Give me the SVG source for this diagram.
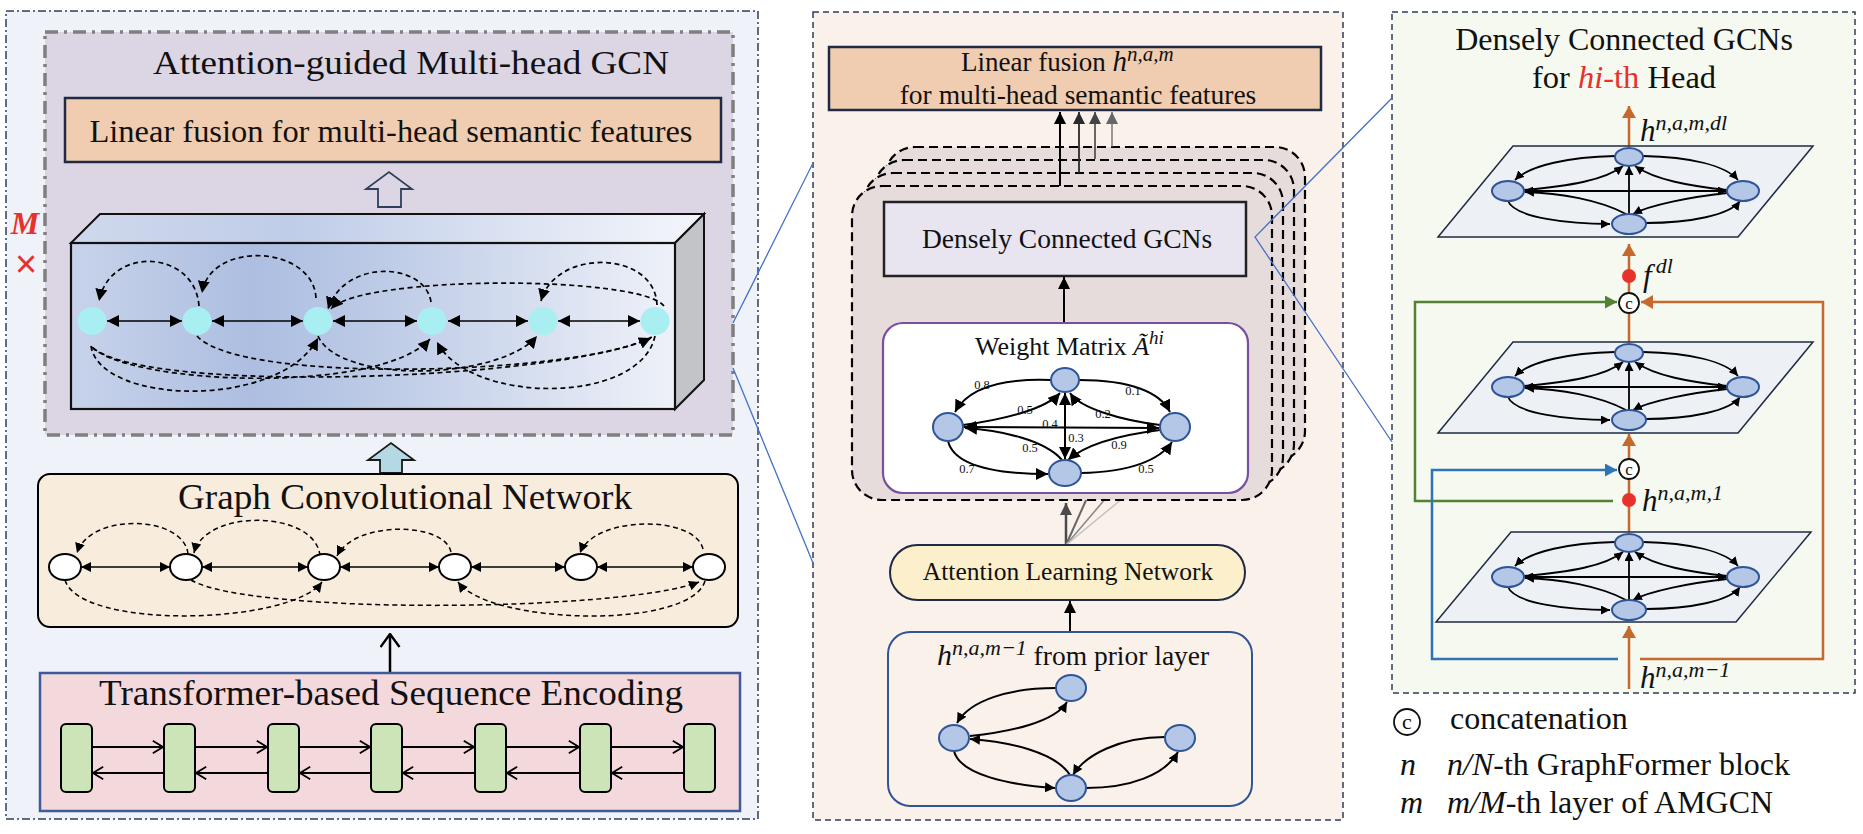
<svg xmlns="http://www.w3.org/2000/svg" width="1863" height="834" viewBox="0 0 1863 834">
<style>
text{font-family:'Liberation Serif','Times New Roman',serif;fill:#111}
.it{font-style:italic}
.ln{fill:none;stroke:#000;stroke-width:2}
.dsh{fill:none;stroke:#000;stroke-width:1.7;stroke-dasharray:5 3.5}
.cy{fill:#a9eef0}
.wn{fill:#fff;stroke:#000;stroke-width:2}
.bn{fill:#b4c7e7;stroke:#2f5597;stroke-width:2}
.gb{fill:#cde3b8;stroke:#000;stroke-width:2}
.bl{fill:none;stroke:#4472c4;stroke-width:1.3}
.or{fill:none;stroke:#c5692e;stroke-width:2.5}
.card{fill:#e6dcdc;stroke:#000;stroke-width:2.2;stroke-dasharray:9 5}
.plane{fill:#edf1f6;stroke:#1f2a44;stroke-width:1.5}
.wl{font-size:12.5px;text-anchor:middle}
</style>
<defs>
<marker id="a12" viewBox="0 0 12 12" refX="12" refY="6" markerWidth="12" markerHeight="12" markerUnits="userSpaceOnUse" orient="auto-start-reverse"><path d="M0,0L12,6L0,12z" fill="#000"/></marker>
<marker id="a10" viewBox="0 0 10 10" refX="10" refY="5" markerWidth="10" markerHeight="10" markerUnits="userSpaceOnUse" orient="auto-start-reverse"><path d="M0,0L10,5L0,10z" fill="#000"/></marker>
<marker id="a9" viewBox="0 0 10 10" refX="10" refY="5" markerWidth="9" markerHeight="9" markerUnits="userSpaceOnUse" orient="auto-start-reverse"><path d="M0,0L10,5L0,10z" fill="#000"/></marker>
<marker id="ch" viewBox="0 0 12 14" refX="11" refY="7" markerWidth="12" markerHeight="14" markerUnits="userSpaceOnUse" orient="auto"><path d="M0.8,0.8L11,7L0.8,13.2" fill="none" stroke="#000" stroke-width="1.8"/></marker>
<marker id="chb" viewBox="0 0 15 21" refX="14" refY="10.5" markerWidth="15" markerHeight="21" markerUnits="userSpaceOnUse" orient="auto"><path d="M1,1L14,10.5L1,20" fill="none" stroke="#000" stroke-width="2.4"/></marker>
<marker id="ao" viewBox="0 0 12 14" refX="12" refY="7" markerWidth="12" markerHeight="14" markerUnits="userSpaceOnUse" orient="auto"><path d="M0,0L12,7L0,14z" fill="#c5692e"/></marker>
<marker id="ag" viewBox="0 0 12 13" refX="12" refY="6.5" markerWidth="12" markerHeight="13" markerUnits="userSpaceOnUse" orient="auto"><path d="M0,0L12,6.5L0,13z" fill="#548235"/></marker>
<marker id="ab" viewBox="0 0 12 13" refX="12" refY="6.5" markerWidth="12" markerHeight="13" markerUnits="userSpaceOnUse" orient="auto"><path d="M0,0L12,6.5L0,13z" fill="#2e75b6"/></marker>
<marker id="k1" viewBox="0 0 12 12" refX="12" refY="6" markerWidth="12" markerHeight="12" markerUnits="userSpaceOnUse" orient="auto"><path d="M0,0L12,6L0,12z" fill="#000"/></marker>
<marker id="k2" viewBox="0 0 12 12" refX="12" refY="6" markerWidth="12" markerHeight="12" markerUnits="userSpaceOnUse" orient="auto"><path d="M0,0L12,6L0,12z" fill="#2a2a2a"/></marker>
<marker id="k3" viewBox="0 0 12 12" refX="12" refY="6" markerWidth="12" markerHeight="12" markerUnits="userSpaceOnUse" orient="auto"><path d="M0,0L12,6L0,12z" fill="#444"/></marker>
<marker id="k4" viewBox="0 0 12 12" refX="12" refY="6" markerWidth="12" markerHeight="12" markerUnits="userSpaceOnUse" orient="auto"><path d="M0,0L12,6L0,12z" fill="#666"/></marker>
<marker id="kf" viewBox="0 0 12 12" refX="12" refY="6" markerWidth="12" markerHeight="12" markerUnits="userSpaceOnUse" orient="auto"><path d="M0,0L12,6L0,12z" fill="#4a4a4a"/></marker>
<linearGradient id="gFront" x1="0" y1="0" x2="1" y2="0">
<stop offset="0" stop-color="#c8d3ea"/><stop offset="0.3" stop-color="#adbee1"/><stop offset="0.5" stop-color="#bccae6"/><stop offset="1" stop-color="#eef1f8"/>
</linearGradient>
<linearGradient id="gTop" x1="0" y1="0" x2="1" y2="0">
<stop offset="0" stop-color="#cfd8ec"/><stop offset="0.35" stop-color="#c0cde8"/><stop offset="1" stop-color="#f4f6fb"/>
</linearGradient>
</defs>

<!-- ============ LEFT PANEL ============ -->
<g id="left-panel">
<rect x="6" y="11" width="752" height="808" fill="#eff2f8" stroke="#2f3e5a" stroke-width="1.5" stroke-dasharray="8 3 2 3"/>
</g>
<g id="amgcn-box">
<rect x="45" y="32" width="688" height="403" fill="#dcd6e4" stroke="#7f7f7f" stroke-width="3.5" stroke-dasharray="13 6 3 6"/>
<text x="411" y="74" font-size="34" text-anchor="middle" textLength="516" lengthAdjust="spacingAndGlyphs">Attention-guided Multi-head GCN</text>
</g>
<g id="linear-fusion-left">
<rect x="65" y="98" width="656" height="64" fill="#f0cdb0" stroke="#1f2a44" stroke-width="2.5"/>
<text x="391" y="142" font-size="31" text-anchor="middle" textLength="603" lengthAdjust="spacingAndGlyphs">Linear fusion for multi-head semantic features</text>
</g>
<g id="hollow-arrow">
<polygon points="378,207 401,207 401,189 412,189 389,172 366,189 378,189" fill="#dcd6e4" stroke="#2f3e5a" stroke-width="1.8"/>
</g>
<g id="m-times">
<text x="25" y="234" font-size="32" font-weight="bold" font-style="italic" text-anchor="middle" style="fill:#e8312a">M</text>
<text x="26" y="277" font-size="38" text-anchor="middle" style="fill:#e8312a;font-family:'Liberation Sans',sans-serif">×</text>
</g>
<g id="cube">
<polygon points="71,243 100,214 704,214 675,243" fill="url(#gTop)" stroke="#111" stroke-width="2"/>
<polygon points="675,243 704,214 704,380 675,409" fill="#c3c4c7" stroke="#111" stroke-width="2"/>
<rect x="71" y="243" width="604" height="166" fill="url(#gFront)" stroke="#111" stroke-width="2.2"/>
</g>
<g id="cube-edges">
<g class="ln" style="stroke-width:1.6">
<path d="M107,321H182" marker-start="url(#a12)" marker-end="url(#a12)"/>
<path d="M212,321H303" marker-start="url(#a12)" marker-end="url(#a12)"/>
<path d="M333,321H417" marker-start="url(#a12)" marker-end="url(#a12)"/>
<path d="M448,321H528" marker-start="url(#a12)" marker-end="url(#a12)"/>
<path d="M558,321H640" marker-start="url(#a12)" marker-end="url(#a12)"/>
</g>
<g class="dsh">
<path d="M199,306C195,250 110,245 99,301" marker-end="url(#a12)"/>
<path d="M316,298C313,245 210,240 202,293" marker-end="url(#a12)"/>
<path d="M431,302C425,262 345,258 328,309" marker-end="url(#a12)"/>
<path d="M664,306C640,275 360,275 331,309" marker-end="url(#a12)"/>
<path d="M657,305C655,250 555,248 541,301" marker-end="url(#a12)"/>
<path d="M91,346C100,405 280,410 318,338" marker-end="url(#a12)"/>
<path d="M92,347C130,385 380,395 430,339" marker-end="url(#a12)"/>
<path d="M93,348C150,395 560,380 651,338" marker-end="url(#a12)"/>
<path d="M197,336C240,385 580,375 652,337"/>
<path d="M318,336C340,385 500,380 537,336" marker-end="url(#a12)"/>
<path d="M655,336C640,405 470,405 437,342" marker-end="url(#a12)"/>
</g>
</g>
<g id="cube-nodes">
<ellipse class="cy" cx="92" cy="321" rx="14.5" ry="14"/>
<ellipse class="cy" cx="197" cy="321" rx="14.5" ry="14"/>
<ellipse class="cy" cx="318" cy="321" rx="14.5" ry="14"/>
<ellipse class="cy" cx="432" cy="321" rx="14.5" ry="14"/>
<ellipse class="cy" cx="543" cy="321" rx="14.5" ry="14"/>
<ellipse class="cy" cx="655" cy="321" rx="14.5" ry="14"/>
</g>
<g id="blue-arrow">
<polygon points="380,473 402,473 402,460 414,460 391,443 368,460 380,460" fill="#b4d9e4" stroke="#1a1a1a" stroke-width="1.8"/>
</g>
<g id="gcn-box">
<rect x="38" y="474" width="700" height="153" rx="12" fill="#f8ecdd" stroke="#000" stroke-width="2"/>
<text x="405" y="509" font-size="35" text-anchor="middle" textLength="454" lengthAdjust="spacingAndGlyphs">Graph Convolutional Network</text>
</g>
<g id="gcn-edges">
<g class="ln" style="stroke-width:1.5">
<path d="M81,567H170" marker-start="url(#a10)" marker-end="url(#a10)"/>
<path d="M202,567H308" marker-start="url(#a10)" marker-end="url(#a10)"/>
<path d="M340,567H439" marker-start="url(#a10)" marker-end="url(#a10)"/>
<path d="M471,567H565" marker-start="url(#a10)" marker-end="url(#a10)"/>
<path d="M597,567H693" marker-start="url(#a10)" marker-end="url(#a10)"/>
</g>
<g class="dsh" style="stroke-width:1.5">
<path d="M188,554C184,515 90,512 77,553" marker-end="url(#a10)"/>
<path d="M320,556C316,510 205,508 194,553" marker-end="url(#a10)"/>
<path d="M451,552C445,522 355,520 337,556" marker-end="url(#a10)"/>
<path d="M703,549C695,515 595,515 580,553" marker-end="url(#a10)"/>
<path d="M65,580C80,630 290,625 322,582" marker-end="url(#a10)"/>
<path d="M191,580C250,615 620,612 699,582" marker-end="url(#a10)"/>
<path d="M705,581C690,630 490,625 458,582" marker-end="url(#a10)"/>
</g>
</g>
<g id="gcn-nodes">
<ellipse class="wn" cx="65" cy="567" rx="16" ry="13"/>
<ellipse class="wn" cx="186" cy="567" rx="16" ry="13"/>
<ellipse class="wn" cx="324" cy="567" rx="16" ry="13"/>
<ellipse class="wn" cx="455" cy="567" rx="16" ry="13"/>
<ellipse class="wn" cx="581" cy="567" rx="16" ry="13"/>
<ellipse class="wn" cx="709" cy="567" rx="16" ry="13"/>
</g>
<g id="enc-to-gcn">
<path class="ln" style="stroke-width:2.5" d="M390,672V634" marker-end="url(#chb)"/>
</g>
<g id="transformer-box">
<rect x="40" y="673" width="700" height="138" fill="#f4d9dc" stroke="#3f5a99" stroke-width="2.5"/>
<text x="391" y="705" font-size="35" text-anchor="middle" textLength="584" lengthAdjust="spacingAndGlyphs">Transformer-based Sequence Encoding</text>
</g>
<g id="transformer-blocks">
<rect class="gb" x="61" y="724" width="31" height="68" rx="5"/>
<rect class="gb" x="164" y="724" width="31" height="68" rx="5"/>
<rect class="gb" x="268" y="724" width="31" height="68" rx="5"/>
<rect class="gb" x="371" y="724" width="31" height="68" rx="5"/>
<rect class="gb" x="475" y="724" width="31" height="68" rx="5"/>
<rect class="gb" x="580" y="724" width="31" height="68" rx="5"/>
<rect class="gb" x="684" y="724" width="31" height="68" rx="5"/>
</g>
<g id="transformer-arrows" class="ln" style="stroke-width:1.8">
<path d="M92,747H163" marker-end="url(#ch)"/>
<path d="M195,747H267" marker-end="url(#ch)"/>
<path d="M299,747H370" marker-end="url(#ch)"/>
<path d="M402,747H474" marker-end="url(#ch)"/>
<path d="M506,747H579" marker-end="url(#ch)"/>
<path d="M611,747H683" marker-end="url(#ch)"/>
<path d="M164,773H93" marker-end="url(#ch)"/>
<path d="M268,773H196" marker-end="url(#ch)"/>
<path d="M371,773H300" marker-end="url(#ch)"/>
<path d="M475,773H403" marker-end="url(#ch)"/>
<path d="M580,773H507" marker-end="url(#ch)"/>
<path d="M684,773H612" marker-end="url(#ch)"/>
</g>

<!-- ============ CENTER PANEL ============ -->
<g id="center-panel">
<rect x="813" y="12" width="530" height="808" fill="#faf1eb" stroke="#2f3e5a" stroke-width="1.5" stroke-dasharray="6 4"/>
</g>
<g id="linear-fusion-center">
<rect x="829" y="47" width="492" height="63" fill="#f0cdb0" stroke="#1f2a44" stroke-width="2.5"/>
<text x="961" y="71" font-size="27">Linear fusion <tspan class="it" font-size="29">h</tspan><tspan class="it" font-size="21" dy="-10">n,a,m</tspan></text>
<text x="1078" y="104" font-size="27.5" text-anchor="middle">for multi-head semantic features</text>
</g>
<g id="fan-lines">
<path d="M1066,545V503" fill="none" stroke="#4a4a4a" stroke-width="2.5" marker-end="url(#kf)"/>
<path d="M1066,545L1087,498" fill="none" stroke="#666" stroke-width="2"/>
<path d="M1066,545L1106,498" fill="none" stroke="#8a8a8a" stroke-width="1.6"/>
<path d="M1066,545L1123,498" fill="none" stroke="#c4c4c4" stroke-width="1.6"/>
</g>
<g id="head-cards">
<rect class="card" x="885" y="147" width="420" height="314" rx="30"/>
<rect class="card" x="874" y="160" width="420" height="314" rx="30"/>
<rect class="card" x="863" y="173" width="420" height="314" rx="30"/>
<rect class="card" x="852" y="186" width="420" height="314" rx="30"/>
</g>
<g id="head-arrows">
<path d="M1060,186V112" fill="none" stroke="#000" stroke-width="2" marker-end="url(#k1)"/>
<path d="M1079,173V112" fill="none" stroke="#2a2a2a" stroke-width="1.8" marker-end="url(#k2)"/>
<path d="M1095,159V112" fill="none" stroke="#444" stroke-width="1.6" marker-end="url(#k3)"/>
<path d="M1112,147V112" fill="none" stroke="#666" stroke-width="1.3" marker-end="url(#k4)"/>
</g>
<g id="densely-box">
<rect x="884" y="202" width="362" height="74" fill="#e8e4f0" stroke="#222" stroke-width="2.5"/>
<text x="1067" y="248" font-size="27.5" text-anchor="middle">Densely Connected GCNs</text>
</g>
<g id="wm-to-dense">
<path class="ln" d="M1064,323V277" marker-end="url(#k1)"/>
</g>
<g id="weight-matrix">
<rect x="883" y="323" width="365" height="170" rx="20" fill="#fff" stroke="#7a4fa0" stroke-width="2.2"/>
<text x="975" y="355" font-size="26">Weight Matrix <tspan class="it">Ã</tspan><tspan class="it" font-size="19" dy="-11">hi</tspan></text>
<g class="ln" style="stroke-width:2">
<path d="M1051,380C1000,378 968,388 955,412" marker-end="url(#a12)"/>
<path d="M1079,380C1130,380 1160,392 1170,412" marker-end="url(#a12)"/>
<path d="M948,441C955,470 1010,474 1048,474" marker-end="url(#a12)"/>
<path d="M1081,473C1130,472 1160,460 1172,442" marker-end="url(#a12)"/>
<path d="M964,427L1159,428" marker-start="url(#a12)" marker-end="url(#a12)"/>
<path d="M1065,459V393" marker-start="url(#a12)" marker-end="url(#a12)"/>
<path d="M963,425C1000,420 1045,410 1060,393" marker-end="url(#a12)"/>
<path d="M1160,425C1120,420 1080,408 1070,393" marker-end="url(#a12)"/>
<path d="M1062,460C1045,440 1000,430 965,428" marker-end="url(#a12)"/>
<path d="M1160,430C1120,435 1085,445 1068,460" marker-end="url(#a12)"/>
</g>
<ellipse class="bn" cx="1065" cy="380" rx="14" ry="12"/>
<ellipse class="bn" cx="948" cy="427" rx="15" ry="14"/>
<ellipse class="bn" cx="1175" cy="427" rx="15" ry="14"/>
<ellipse class="bn" cx="1065" cy="473" rx="16" ry="13"/>
<text class="wl" x="982" y="389">0.8</text>
<text class="wl" x="1133" y="395">0.1</text>
<text class="wl" x="1025" y="414">0.5</text>
<text class="wl" x="1050" y="428">0.4</text>
<text class="wl" x="1103" y="418">0.2</text>
<text class="wl" x="1076" y="442">0.3</text>
<text class="wl" x="1030" y="452">0.5</text>
<text class="wl" x="1119" y="449">0.9</text>
<text class="wl" x="967" y="473">0.7</text>
<text class="wl" x="1146" y="473">0.5</text>
</g>
<g id="aln">
<rect x="890" y="545" width="355" height="55" rx="27.5" fill="#fcefcc" stroke="#1f2a44" stroke-width="2"/>
<text x="1068" y="580" font-size="25.5" text-anchor="middle">Attention Learning Network</text>
</g>
<g id="prior-to-aln">
<path class="ln" d="M1070,632V601" marker-end="url(#k1)"/>
</g>
<g id="prior-layer">
<rect x="888" y="632" width="364" height="174" rx="22" fill="#faf1eb" stroke="#2f5597" stroke-width="2"/>
<text x="937" y="665" font-size="27.5"><tspan class="it" font-size="30">h</tspan><tspan class="it" font-size="22" dy="-10">n,a,m−1</tspan><tspan dy="10"> from prior layer</tspan></text>
<g class="ln" style="stroke-width:2">
<path d="M1056,688C1010,688 970,700 957,723" marker-end="url(#a10)"/>
<path d="M970,736C1010,732 1055,722 1067,702" marker-end="url(#a10)"/>
<path d="M1070,775C1055,752 1010,742 970,739" marker-end="url(#a10)"/>
<path d="M954,751C960,775 1010,785 1055,788" marker-end="url(#a10)"/>
<path d="M1165,737C1120,737 1085,755 1073,775" marker-end="url(#a10)"/>
<path d="M1086,788C1130,788 1165,775 1178,752" marker-end="url(#a10)"/>
</g>
<ellipse class="bn" cx="1071" cy="688" rx="15" ry="13"/>
<ellipse class="bn" cx="954" cy="738" rx="15" ry="13"/>
<ellipse class="bn" cx="1071" cy="788" rx="15" ry="13"/>
<ellipse class="bn" cx="1180" cy="738" rx="15" ry="13"/>
</g>

<!-- ============ RIGHT PANEL ============ -->
<g id="right-panel">
<rect x="1392" y="12" width="463" height="681" fill="#f5f9ef" stroke="#2f3e5a" stroke-width="1.5" stroke-dasharray="6 4"/>
<text x="1624" y="50" font-size="32" text-anchor="middle">Densely Connected GCNs</text>
<text x="1624" y="88" font-size="32.5" text-anchor="middle">for <tspan class="it" style="fill:#e8312a">hi</tspan><tspan style="fill:#e8312a">-th</tspan> Head</text>
</g>
<g id="right-connectors">
<path class="or" d="M1629,147V106" marker-end="url(#ao)"/>
<path class="or" d="M1629,293V244" marker-end="url(#ao)"/>
<path class="or" d="M1629,343V313"/>
<path class="or" d="M1629,459V434" marker-end="url(#ao)"/>
<path class="or" d="M1629,532V479"/>
<path class="or" d="M1629,689V626" marker-end="url(#ao)"/>
<path d="M1613,501H1415V302H1617" fill="none" stroke="#548235" stroke-width="2.5" marker-end="url(#ag)"/>
<path d="M1618,659H1432V470H1617" fill="none" stroke="#2e75b6" stroke-width="2.5" marker-end="url(#ab)"/>
<path d="M1640,659H1823V302H1641" class="or" marker-end="url(#ao)"/>
</g>
<g id="plane-top">
<polygon class="plane" points="1513,146 1813,146 1738,237 1438,237"/>
<g class="ln" style="stroke-width:1.8">
<path d="M1615,156C1570,157 1530,165 1515,180" marker-end="url(#a9)"/>
<path d="M1643,156C1690,157 1725,165 1738,180" marker-end="url(#a9)"/>
<path d="M1508,201C1515,218 1570,224 1610,224" marker-end="url(#a9)"/>
<path d="M1646,223C1690,223 1730,215 1740,201" marker-end="url(#a9)"/>
<path d="M1524,191L1727,191" marker-start="url(#a9)" marker-end="url(#a9)"/>
<path d="M1629,214V166" marker-end="url(#a9)"/>
<path d="M1524,190C1570,186 1605,180 1623,166" marker-end="url(#a9)"/>
<path d="M1727,190C1690,186 1655,180 1635,166" marker-end="url(#a9)"/>
<path d="M1626,214C1600,200 1560,193 1525,192" marker-end="url(#a9)"/>
<path d="M1727,193C1690,197 1650,205 1633,214" marker-end="url(#a9)"/>
</g>
<ellipse class="bn" cx="1629" cy="157" rx="14" ry="9"/>
<ellipse class="bn" cx="1508" cy="191" rx="16" ry="10"/>
<ellipse class="bn" cx="1743" cy="191" rx="16" ry="10"/>
<ellipse class="bn" cx="1629" cy="224" rx="17" ry="10"/>
</g>
<g id="plane-middle" transform="translate(0,196)">
<polygon class="plane" points="1513,146 1813,146 1738,237 1438,237"/>
<g class="ln" style="stroke-width:1.8">
<path d="M1615,156C1570,157 1530,165 1515,180" marker-end="url(#a9)"/>
<path d="M1643,156C1690,157 1725,165 1738,180" marker-end="url(#a9)"/>
<path d="M1508,201C1515,218 1570,224 1610,224" marker-end="url(#a9)"/>
<path d="M1646,223C1690,223 1730,215 1740,201" marker-end="url(#a9)"/>
<path d="M1524,191L1727,191" marker-start="url(#a9)" marker-end="url(#a9)"/>
<path d="M1629,214V166" marker-end="url(#a9)"/>
<path d="M1524,190C1570,186 1605,180 1623,166" marker-end="url(#a9)"/>
<path d="M1727,190C1690,186 1655,180 1635,166" marker-end="url(#a9)"/>
<path d="M1626,214C1600,200 1560,193 1525,192" marker-end="url(#a9)"/>
<path d="M1727,193C1690,197 1650,205 1633,214" marker-end="url(#a9)"/>
</g>
<ellipse class="bn" cx="1629" cy="157" rx="14" ry="9"/>
<ellipse class="bn" cx="1508" cy="191" rx="16" ry="10"/>
<ellipse class="bn" cx="1743" cy="191" rx="16" ry="10"/>
<ellipse class="bn" cx="1629" cy="224" rx="17" ry="10"/>
</g>
<g id="plane-bottom" transform="translate(0,386)">
<polygon class="plane" points="1511,146 1811,146 1736,236 1436,236"/>
<g class="ln" style="stroke-width:1.8">
<path d="M1615,156C1570,157 1530,165 1515,180" marker-end="url(#a9)"/>
<path d="M1643,156C1690,157 1725,165 1738,180" marker-end="url(#a9)"/>
<path d="M1508,201C1515,218 1570,224 1610,224" marker-end="url(#a9)"/>
<path d="M1646,223C1690,223 1730,215 1740,201" marker-end="url(#a9)"/>
<path d="M1524,191L1727,191" marker-start="url(#a9)" marker-end="url(#a9)"/>
<path d="M1629,214V166" marker-end="url(#a9)"/>
<path d="M1524,190C1570,186 1605,180 1623,166" marker-end="url(#a9)"/>
<path d="M1727,190C1690,186 1655,180 1635,166" marker-end="url(#a9)"/>
<path d="M1626,214C1600,200 1560,193 1525,192" marker-end="url(#a9)"/>
<path d="M1727,193C1690,197 1650,205 1633,214" marker-end="url(#a9)"/>
</g>
<ellipse class="bn" cx="1629" cy="157" rx="14" ry="9"/>
<ellipse class="bn" cx="1508" cy="191" rx="16" ry="10"/>
<ellipse class="bn" cx="1743" cy="191" rx="16" ry="10"/>
<ellipse class="bn" cx="1629" cy="224" rx="17" ry="10"/>
</g>
<g id="concat-1">
<circle cx="1629" cy="303" r="10" fill="#fff" stroke="#111" stroke-width="1.8"/>
<text x="1629" y="308.5" font-size="17" text-anchor="middle">c</text>
</g>
<g id="concat-2">
<circle cx="1629" cy="469" r="10" fill="#fff" stroke="#111" stroke-width="1.8"/>
<text x="1629" y="474.5" font-size="17" text-anchor="middle">c</text>
</g>
<g id="dots">
<circle cx="1629" cy="276" r="7" fill="#e8312a"/>
<circle cx="1629" cy="500" r="7" fill="#e8312a"/>
</g>
<g id="right-labels">
<text x="1640" y="141" font-size="31"><tspan class="it">h</tspan><tspan class="it" font-size="22" dy="-11">n,a,m,dl</tspan></text>
<text x="1643" y="286" font-size="31"><tspan class="it">f</tspan><tspan class="it" font-size="22" dx="4" dy="-13">dl</tspan></text>
<text x="1642" y="511" font-size="31"><tspan class="it">h</tspan><tspan class="it" font-size="22" dy="-11">n,a,m,1</tspan></text>
<text x="1640" y="688" font-size="31"><tspan class="it">h</tspan><tspan class="it" font-size="22" dy="-11">n,a,m−1</tspan></text>
</g>
<g id="legend">
<circle cx="1407" cy="722" r="13" fill="#fff" stroke="#111" stroke-width="1.8"/>
<text x="1407" y="729" font-size="22" text-anchor="middle">c</text>
<text x="1450" y="729" font-size="32">concatenation</text>
<text x="1400" y="775" font-size="32" class="it">n</text>
<text x="1447" y="775" font-size="32"><tspan class="it">n/N</tspan>-th GraphFormer block</text>
<text x="1400" y="813" font-size="32" class="it">m</text>
<text x="1447" y="813" font-size="32"><tspan class="it">m/M</tspan>-th layer of AMGCN</text>
</g>

<!-- zoom connectors -->
<g id="zoom-lines">
<path class="bl" d="M733,323L813,163"/>
<path class="bl" d="M733,368L813,563"/>
<path class="bl" d="M1392,98L1255,237L1392,442"/>
</g>
</svg>
